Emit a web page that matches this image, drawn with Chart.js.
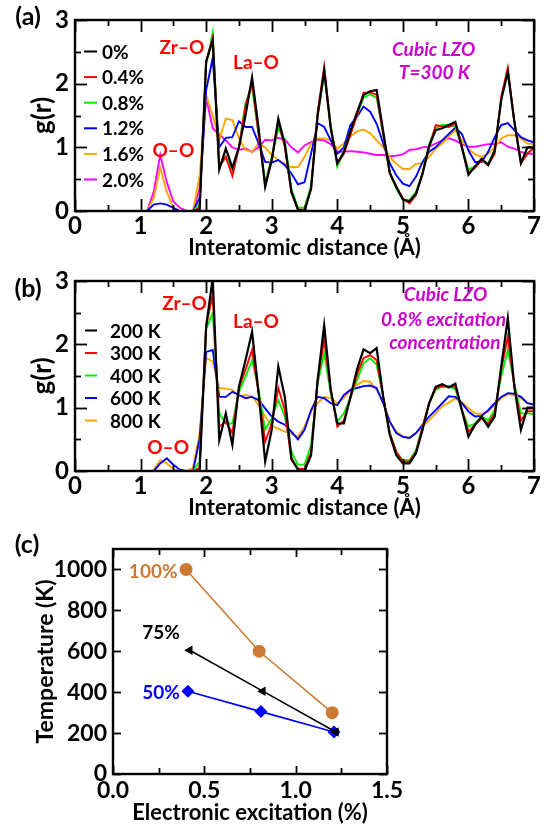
<!DOCTYPE html>
<html>
<head>
<meta charset="utf-8">
<script src="https://cdn.jsdelivr.net/npm/chart.js"></script>
<style>
  html, body { margin: 0; padding: 0; background: #fff; }
  #wrap { position: relative; width: 544px; height: 824px; overflow: hidden; }
  canvas { position: absolute; left: 0; }
</style>
</head>
<body>
<div id="wrap">
  <canvas id="panelA" width="544" height="262" style="top:0px"></canvas>
  <canvas id="panelB" width="544" height="262" style="top:262px"></canvas>
  <canvas id="panelC" width="544" height="300" style="top:524px"></canvas>
</div>
<script>
// ---- radial distribution functions g(r), sampled every 0.1 Å ----
const distance = [
  1.1, 1.2, 1.3, 1.4, 1.5, 1.6, 1.7, 1.8, 1.9, 2.0,
  2.1, 2.2, 2.3, 2.4, 2.5, 2.6, 2.7, 2.8, 2.9, 3.0,
  3.1, 3.2, 3.3, 3.4, 3.5, 3.6, 3.7, 3.8, 3.9, 4.0,
  4.1, 4.2, 4.3, 4.4, 4.5, 4.6, 4.7, 4.8, 4.9, 5.0,
  5.1, 5.2, 5.3, 5.4, 5.5, 5.6, 5.7, 5.8, 5.9, 6.0,
  6.1, 6.2, 6.3, 6.4, 6.5, 6.6, 6.7, 6.8, 6.9, 7.0
];

// (a) T = 300 K, different excitation concentrations
const excitationLabels = ['0%', '0.4%', '0.8%', '1.2%', '1.6%', '2.0%'];
const gExc00 = [0,0,0,0,0,0,0,0,0.02,2.35,
  2.68,0.65,0.98,0.68,1.0,1.5,2.1,1.3,0.38,0.8,
  1.45,1.05,0.3,0.02,0,0.35,1.5,2.2,1.3,0.75,
  0.92,1.25,1.55,1.82,1.88,1.9,1.25,0.6,0.38,0.18,
  0.15,0.27,0.58,1.02,1.27,1.3,1.35,1.4,1.0,0.57,
  0.7,0.82,0.72,0.95,1.75,2.18,1.4,0.75,1.0,1.0];
const gExc04 = [0,0,0,0,0,0,0,0,0.05,2.35,
  2.72,0.7,0.85,0.55,1.0,1.65,2.02,1.2,0.4,0.8,
  1.4,1.0,0.3,0.02,0.02,0.35,1.55,2.27,1.3,0.75,
  0.9,1.2,1.5,1.86,1.86,1.83,1.2,0.6,0.38,0.2,
  0.12,0.25,0.6,1.0,1.35,1.33,1.32,1.37,1.0,0.6,
  0.68,0.8,0.72,0.9,1.8,2.25,1.4,0.75,0.9,1.0];
const gExc08 = [0,0,0,0,0,0,0,0,0.1,2.3,
  2.8,0.7,0.85,0.65,1.0,1.7,1.95,1.2,0.45,0.85,
  1.3,1.1,0.35,0.05,0.05,0.4,1.5,2.15,1.35,0.7,
  0.95,1.25,1.5,1.78,1.83,1.78,1.2,0.6,0.35,0.18,
  0.17,0.3,0.6,1.05,1.3,1.35,1.35,1.32,1.0,0.65,
  0.7,0.8,0.75,0.95,1.75,2.2,1.4,0.8,0.9,1.0];
const gExc12 = [0,0.1,0.12,0.1,0.05,0,0,0,0.2,1.9,
  2.4,1.0,1.15,1.16,1.41,1.32,1.32,1.06,0.77,0.76,
  0.8,0.72,0.59,0.42,0.45,0.9,1.38,1.32,1.11,0.9,
  1.0,1.35,1.48,1.64,1.56,1.37,1.06,0.75,0.56,0.43,
  0.39,0.54,0.77,0.93,1.0,1.11,1.21,1.31,1.21,0.95,
  0.77,0.77,0.93,1.16,1.35,1.38,1.27,1.16,1.11,1.08];
const gExc16 = [0,0.2,0.68,0.3,0.05,0,0,0,0.55,1.82,
  1.5,1.12,1.45,1.43,1.14,0.96,0.93,1.06,1.0,0.88,
  0.8,0.74,0.69,0.69,0.85,1.06,1.14,1.14,1.11,0.98,
  1.06,1.17,1.25,1.28,1.22,1.11,1.0,0.85,0.74,0.66,
  0.66,0.74,0.75,0.85,0.98,1.06,1.17,1.27,1.11,0.98,
  0.89,0.85,0.9,1.0,1.14,1.19,1.19,1.14,1.06,1.05];
const gExc20 = [0,0.3,0.88,0.45,0.15,0.05,0,0,0.35,1.78,
  1.3,1.2,1.11,1.0,0.96,0.98,0.93,1.0,1.12,1.11,
  1.15,1.12,1.0,0.92,1.03,1.08,1.12,1.11,1.05,0.93,
  0.93,0.94,0.93,0.92,0.9,0.88,0.88,0.86,0.87,0.89,
  0.96,0.97,1.0,1.01,1.06,1.11,1.14,1.11,1.05,1.01,
  1.01,1.03,1.05,1.05,1.08,1.01,0.98,0.93,0.9,0.9];

// (b) 0.8% excitation, different temperatures
const temperatureLabels = ['200 K', '300 K', '400 K', '600 K', '800 K'];
const gT200 = [null,0,0,0,0,0,0,0,0,2.28,
  3.05,0.49,0.91,0.41,1.33,1.75,2.2,1.23,0.15,0.65,
  1.65,1.17,0.2,0.02,0,0.25,1.44,2.3,1.28,0.75,
  0.75,1.17,1.6,1.92,1.86,1.94,1.17,0.57,0.25,0.12,
  0.12,0.28,0.65,1.07,1.33,1.37,1.32,1.38,0.96,0.54,
  0.73,0.86,0.7,0.86,1.65,2.41,1.33,0.65,1.0,1.0];
const gT300 = [null,0,0,0,0,0,0,0,0.05,2.3,
  2.78,0.7,0.78,0.6,1.31,1.6,1.91,1.23,0.46,0.75,
  1.31,0.96,0.17,0.04,0.03,0.3,1.44,2.07,1.28,0.7,
  0.8,1.15,1.52,1.78,1.83,1.75,1.17,0.6,0.3,0.15,
  0.15,0.3,0.7,1.07,1.31,1.34,1.33,1.33,0.96,0.62,
  0.73,0.83,0.75,0.91,1.6,2.12,1.33,0.8,0.94,0.95];
const gT400 = [null,0,0,0,0,0,0,0,0.15,2.25,
  2.49,0.91,0.75,0.75,1.25,1.49,1.75,1.28,0.65,0.83,
  1.12,0.86,0.3,0.1,0.1,0.41,1.38,1.86,1.23,0.78,
  0.91,1.15,1.44,1.7,1.78,1.68,1.17,0.6,0.3,0.17,
  0.17,0.33,0.7,1.07,1.28,1.33,1.34,1.29,0.96,0.7,
  0.75,0.86,0.8,0.96,1.49,1.91,1.38,0.91,0.91,0.9];
const gT600 = [null,0,0.12,0.2,0.1,0.02,0,0,0.5,1.88,
  1.91,1.17,1.17,1.25,1.2,1.15,1.17,1.12,0.99,0.86,
  0.78,0.73,0.62,0.5,0.65,0.96,1.17,1.15,1.07,1.04,
  1.2,1.28,1.31,1.34,1.35,1.31,1.07,0.78,0.6,0.54,
  0.52,0.6,0.73,0.86,0.96,1.07,1.18,1.17,1.07,0.94,
  0.86,0.87,0.96,1.07,1.17,1.23,1.22,1.17,1.07,1.05];
const gT800 = [null,0.02,0.17,0.12,0.03,0,0,0.05,0.6,1.78,
  1.73,1.31,1.3,1.28,1.18,1.2,1.18,1.04,0.86,0.71,
  0.67,0.62,0.59,0.54,0.7,0.94,1.07,1.17,1.15,1.07,
  1.15,1.28,1.36,1.42,1.41,1.28,1.07,0.78,0.62,0.54,
  0.53,0.6,0.7,0.8,0.91,1.02,1.08,1.15,1.09,0.99,
  0.91,0.9,0.94,1.04,1.15,1.21,1.2,1.15,1.07,1.05];

// (c) temperature needed to reach a given amorphous fraction
const fractionLabels = ['100%', '75%', '50%'];
const excitation100 = [0.40, 0.80, 1.20];
const temperature100 = [1000, 600, 300];
const excitation75 = [0.42, 0.82, 1.22];
const temperature75 = [605, 405, 205];
const excitation50 = [0.41, 0.81, 1.21];
const temperature50 = [405, 305, 205];

// ---- shared styling ----
const FAMILY = 'Lato, "Open Sans", sans-serif';
const bold = (size) => ({ family: FAMILY, size, weight: 'bold', lineHeight: 1 });
const cssFont = (size, italic) => (italic ? 'italic ' : '') + 'bold ' + size + 'px ' + FAMILY;
const RED = '#ff0000', MAGENTA = '#cc00cc', BROWN = '#cc7a33';

const pairs = (xs, ys) => xs.map((x, i) => ({ x, y: ys[i] }));

// Box frame, inward tick marks on all four sides, in-plot labels and legend
const decor = {
  id: 'decor',
  afterDatasetsDraw(chart, args, o) {
    const { ctx, chartArea: a } = chart;
    const sx = chart.scales.x, sy = chart.scales.y;
    const seg = (x1, y1, x2, y2) => { ctx.beginPath(); ctx.moveTo(x1, y1); ctx.lineTo(x2, y2); ctx.stroke(); };
    ctx.save();
    ctx.strokeStyle = '#000';
    ctx.lineWidth = 1.8;
    sx.ticks.forEach(t => {
      const p = Math.round(sx.getPixelForValue(t.value)) + 0.5;
      const len = t.label !== '' ? o.major : o.minor;
      seg(p, a.bottom, p, a.bottom - len);
      seg(p, a.top, p, a.top + len);
    });
    sy.ticks.forEach(t => {
      const p = Math.round(sy.getPixelForValue(t.value)) + 0.5;
      const len = t.label !== '' ? o.major : o.minor;
      seg(a.left, p, a.left + len, p);
      seg(a.right, p, a.right - len, p);
    });
    ctx.lineWidth = 2.4;
    ctx.strokeRect(a.left, a.top, a.right - a.left, a.bottom - a.top);

    ctx.textAlign = 'center';
    ctx.textBaseline = 'middle';
    (o.texts || []).forEach(t => {
      ctx.font = t.font;
      ctx.fillStyle = t.color;
      ctx.fillText(t.text, sx.getPixelForValue(t.x), sy.getPixelForValue(t.y));
    });

    if (o.legend) {
      const L = o.legend;
      ctx.font = L.font;
      ctx.textAlign = 'left';
      chart.data.datasets.forEach((ds, i) => {
        const y = L.y0 + i * L.dy;
        ctx.strokeStyle = ds.borderColor;
        ctx.lineWidth = 2;
        seg(L.x1, y, L.x2, y);
        ctx.fillStyle = '#000';
        ctx.fillText(ds.label, L.tx, y + 1);
      });
    }

    if (o.tag) {
      ctx.font = o.tag.font;
      ctx.fillStyle = '#000';
      ctx.textAlign = 'center';
      ctx.fillText(o.tag.text, o.tag.x, o.tag.y);
    }
    ctx.restore();
  }
};

function gofrChart(id, labels, series, colors, opt) {
  const datasets = series.map((vals, i) => ({
    label: labels[i],
    data: pairs(distance, vals),
    borderColor: colors[i],
    borderWidth: i === 0 ? 2.2 : 1.9,
    pointRadius: 0,
    tension: 0,
    fill: false
  }));
  return new Chart(document.getElementById(id), {
    type: 'line',
    data: { datasets },
    options: {
      responsive: false,
      animation: false,
      devicePixelRatio: 1,
      layout: { padding: { top: opt.top, right: 7, left: 0, bottom: 0 } },
      plugins: {
        legend: { display: false },
        tooltip: { enabled: false },
        decor: opt.decor
      },
      scales: {
        x: {
          type: 'linear', min: 0, max: 7,
          grid: { display: false, drawTicks: false },
          border: { display: false },
          ticks: {
            stepSize: 0.5, autoSkip: false, maxRotation: 0, padding: 3,
            color: '#000', font: bold(24),
            callback: v => Number.isInteger(v) ? String(v) : ''
          },
          title: {
            display: true, text: 'Interatomic distance (Å)', color: '#000',
            font: bold(22), padding: { top: 0, bottom: opt.xTitlePad }
          },
          afterFit: s => { s.height = opt.xAxisHeight; }
        },
        y: {
          type: 'linear', min: 0, max: 3,
          grid: { display: false, drawTicks: false },
          border: { display: false },
          ticks: {
            stepSize: 0.5, padding: 6, color: '#000', font: bold(24),
            callback: v => Number.isInteger(v) ? String(v) : ''
          },
          title: {
            display: true, text: 'g(r)', color: '#000',
            font: bold(26), padding: { top: 30, bottom: 0 }
          },
          afterFit: s => { s.width = 75; }
        }
      }
    },
    plugins: [decor]
  });
}

// (a)
gofrChart('panelA', excitationLabels,
  [gExc00, gExc04, gExc08, gExc12, gExc16, gExc20],
  ['#000000', '#ff0000', '#00ee00', '#0000ff', '#ffa500', '#ff00ff'],
  {
    top: 20, xAxisHeight: 51, xTitlePad: 3,
    decor: {
      major: 12, minor: 6,
      tag: { text: '(a)', x: 28, y: 17, font: cssFont(25) },
      legend: { x1: 84, x2: 97, tx: 102, y0: 51.5, dy: 25.6, font: cssFont(19) },
      texts: [
        { text: 'Zr–O', x: 1.63, y: 2.57, color: RED, font: cssFont(19) },
        { text: 'La–O', x: 2.76, y: 2.32, color: RED, font: cssFont(19) },
        { text: 'O–O', x: 1.5, y: 0.95, color: RED, font: cssFont(19) },
        { text: 'Cubic LZO', x: 5.47, y: 2.53, color: MAGENTA, font: cssFont(19, true) },
        { text: 'T=300 K', x: 5.48, y: 2.17, color: MAGENTA, font: cssFont(19, true) }
      ]
    }
  });

// (b)
gofrChart('panelB', temperatureLabels,
  [gT200, gT300, gT400, gT600, gT800],
  ['#000000', '#ff0000', '#00ee00', '#0000ff', '#ffa500'],
  {
    top: 19, xAxisHeight: 53, xTitlePad: 5,
    decor: {
      major: 12, minor: 6,
      tag: { text: '(b)', x: 28, y: 27, font: cssFont(25) },
      legend: { x1: 85, x2: 97, tx: 110, y0: 68.5, dy: 22.5, font: cssFont(19) },
      texts: [
        { text: 'Zr–O', x: 1.67, y: 2.64, color: RED, font: cssFont(19) },
        { text: 'La–O', x: 2.76, y: 2.35, color: RED, font: cssFont(19) },
        { text: 'O–O', x: 1.42, y: 0.36, color: RED, font: cssFont(19) },
        { text: 'Cubic LZO', x: 5.65, y: 2.78, color: MAGENTA, font: cssFont(19, true) },
        { text: '0.8% excitation', x: 5.62, y: 2.38, color: MAGENTA, font: cssFont(19, true) },
        { text: 'concentration', x: 5.64, y: 2.02, color: MAGENTA, font: cssFont(19, true) }
      ]
    }
  });

// (c)
new Chart(document.getElementById('panelC'), {
  type: 'line',
  data: {
    datasets: [
      {
        label: fractionLabels[0], data: pairs(excitation100, temperature100),
        borderColor: BROWN, backgroundColor: BROWN, borderWidth: 1.6,
        pointStyle: 'circle', pointRadius: 6.5, pointBorderWidth: 0
      },
      {
        label: fractionLabels[1], data: pairs(excitation75, temperature75),
        borderColor: '#000', backgroundColor: '#000', borderWidth: 1.6,
        pointStyle: 'triangle', pointRotation: -90, pointRadius: 5.5, pointBorderWidth: 0
      },
      {
        label: fractionLabels[2], data: pairs(excitation50, temperature50),
        borderColor: '#0000ff', backgroundColor: '#0000ff', borderWidth: 1.6,
        pointStyle: 'rectRot', pointRadius: 6.5, pointBorderWidth: 0
      }
    ]
  },
  options: {
    responsive: false,
    animation: false,
    devicePixelRatio: 1,
    layout: { padding: { top: 25, right: 157, left: 0, bottom: 0 } },
    elements: { line: { tension: 0 } },
    plugins: {
      legend: { display: false },
      tooltip: { enabled: false },
      decor: {
        major: 8, minor: 6,
        tag: { text: '(c)', x: 27, y: 21, font: cssFont(25) },
        texts: [
          { text: '100%', x: 0.22, y: 990, color: BROWN, font: cssFont(19) },
          { text: '75%', x: 0.263, y: 691, color: '#000', font: cssFont(19) },
          { text: '50%', x: 0.263, y: 397, color: '#0000ff', font: cssFont(19) }
        ]
      }
    },
    scales: {
      x: {
        type: 'linear', min: 0, max: 1.5,
        grid: { display: false, drawTicks: false },
        border: { display: false },
        ticks: {
          stepSize: 0.25, autoSkip: false, maxRotation: 0, padding: 5,
          color: '#000', font: bold(23),
          callback: v => (Math.round(v * 100) % 50 === 0) ? v.toFixed(1) : ''
        },
        title: {
          display: true, text: 'Electronic excitation (%)', color: '#000',
          font: bold(22), padding: { top: 0, bottom: 0 }
        },
        afterFit: s => { s.height = 50; }
      },
      y: {
        type: 'linear', min: 0, max: 1100,
        grid: { display: false, drawTicks: false },
        border: { display: false },
        ticks: {
          stepSize: 100, padding: 6, color: '#000', font: bold(23),
          callback: v => (v % 200 === 0) ? String(v) : ''
        },
        title: {
          display: true, text: 'Temperature (K)', color: '#000',
          font: bold(23), padding: { top: 34, bottom: 0 }
        },
        afterFit: s => { s.width = 113; }
      }
    }
  },
  plugins: [decor]
});
</script>
</body>
</html>
